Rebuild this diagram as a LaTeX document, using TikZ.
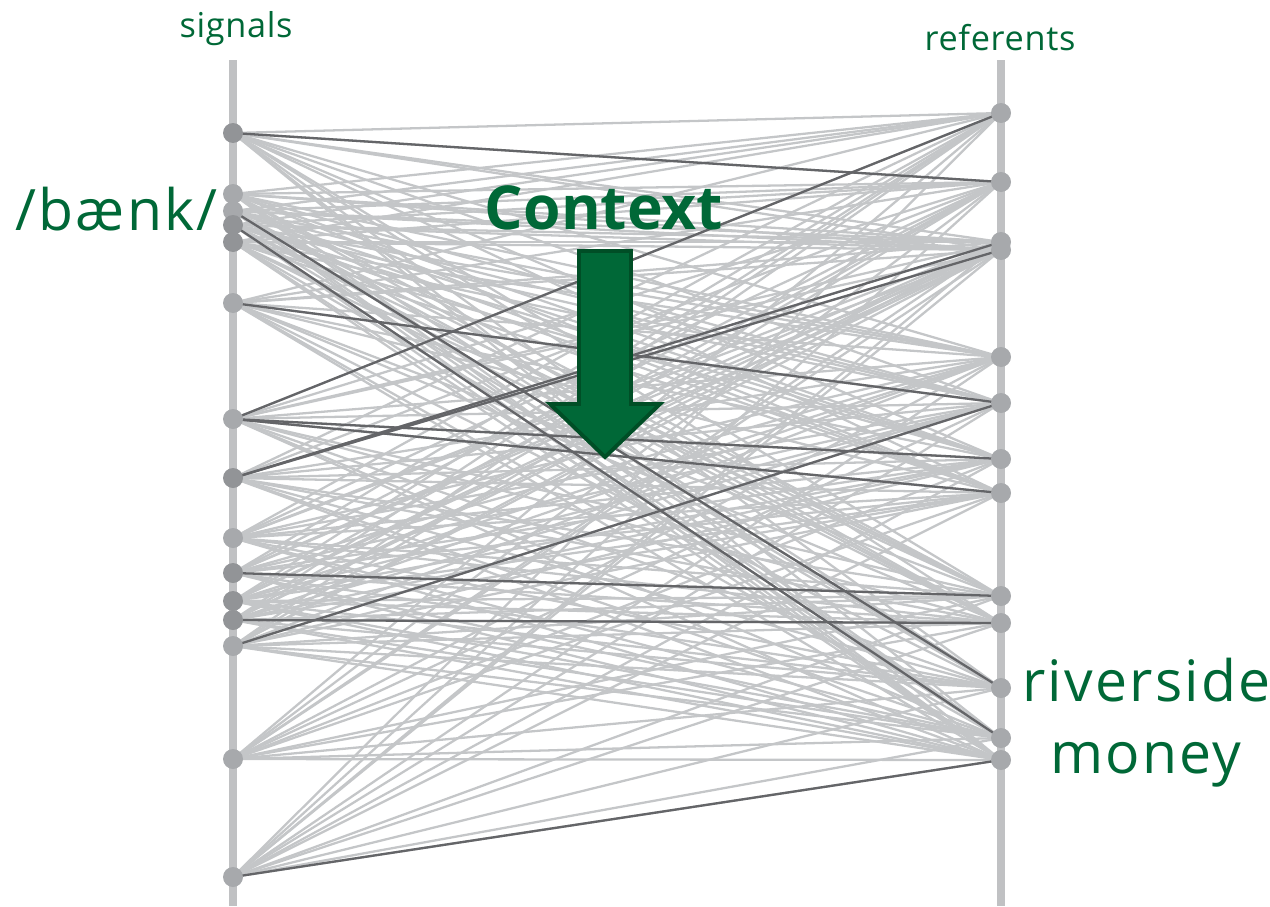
\documentclass[tikz,border=0pt]{standalone}
\usepackage{fontspec}
\setmainfont{Open Sans}
\pgfdeclarelayer{axislayer}
\pgfdeclarelayer{edgelayer}
\pgfsetlayers{axislayer,edgelayer,main}
\definecolor{hgreen}{RGB}{0,104,55}
\definecolor{hgreendark}{RGB}{0,78,38}
\definecolor{axisgray}{RGB}{192,193,195}
\definecolor{lightedge}{RGB}{196,198,200}
\definecolor{darkedge}{RGB}{100,101,104}
\definecolor{dotlight}{RGB}{167,169,172}
\definecolor{dotdark}{RGB}{146,148,151}
\tikzset{
  dotl/.style={circle, fill=dotlight, minimum size=0.40cm, inner sep=0pt},
  dotd/.style={circle, fill=dotdark, minimum size=0.40cm, inner sep=0pt},
  edgel/.style={draw=lightedge, line width=1.3pt},
  edged/.style={draw=darkedge, line width=1.3pt},
  axisline/.style={draw=axisgray, line width=4.6pt},
  smalllbl/.style={text=hgreen, inner sep=0pt, anchor=base, font=\fontsize{19.5}{22}\selectfont\addfontfeature{LetterSpace=2}},
  biglbl/.style={text=hgreen, inner sep=0pt, font=\fontsize{32.5}{36}\selectfont\addfontfeature{LetterSpace=4}},
  ctxlbl/.style={text=hgreen, inner sep=0pt, anchor=base, font=\bfseries\fontsize{34.5}{38}\selectfont},
  ctxarrow/.style={fill=hgreen, draw=hgreendark, line width=2.2pt, line join=miter}
}
\begin{document}
\begin{tikzpicture}[x=0.02cm, y=-0.02cm]
\useasboundingbox (0,0) rectangle (1270,906);
% axes
\coordinate (lt) at (233,60);
\coordinate (lb) at (233,906);
\coordinate (rt) at (1001,60);
\coordinate (rb) at (1001,906);
\begin{pgfonlayer}{axislayer}
\draw[axisline] (lt) -- (lb);
\draw[axisline] (rt) -- (rb);
\end{pgfonlayer}
% signal dots
\foreach \n/\y/\s in {1/133/dotd, 2/194/dotl, 3/211/dotl, 4/225/dotd, 5/242/dotd,
  6/303/dotl, 7/419/dotl, 8/478/dotd, 9/538/dotl, 10/573/dotd, 11/601/dotd,
  12/620/dotd, 13/646/dotl, 14/759/dotl, 15/877/dotl}
  \node[\s] (l\n) at (233,\y) {};
% referent dots
\foreach \n/\y in {1/113, 2/182, 3/242, 4/250, 5/357, 6/403, 7/459, 8/493,
  9/596, 10/623, 11/688, 12/738, 13/760}
  \node[dotl] (r\n) at (1001,\y) {};
% connectors
\begin{pgfonlayer}{edgelayer}
\foreach \i in {1,...,15}{
  \foreach \j in {1,...,13}{
    \draw[edgel] (l\i.center) -- (r\j.center);
  }
}
\foreach \a/\b in {1/2, 3/11, 4/12, 6/6, 7/1, 7/7, 7/8, 8/3, 8/4, 10/9, 12/10, 13/6, 15/13}
  \draw[edged] (l\a.center) -- (r\b.center);
\end{pgfonlayer}
% labels
\node[smalllbl] (sig) at (236,37) {signals};
\node[smalllbl] (ref) at (1000,50) {referents};
\node[biglbl, anchor=base east] (bank) at (218,230) {/bænk/};
\node[biglbl, anchor=base west] (river) at (1022,701) {riverside};
\node[biglbl, anchor=base west] (money) at (1050,773) {money};
\node[ctxlbl] (ctx) at (604,229) {Context};
% context arrow
\draw[ctxarrow] (579,251) -- (631,251) -- (631,404) -- (660,404) -- (605,457) -- (550,404) -- (579,404) -- cycle;
\end{tikzpicture}
\end{document}
